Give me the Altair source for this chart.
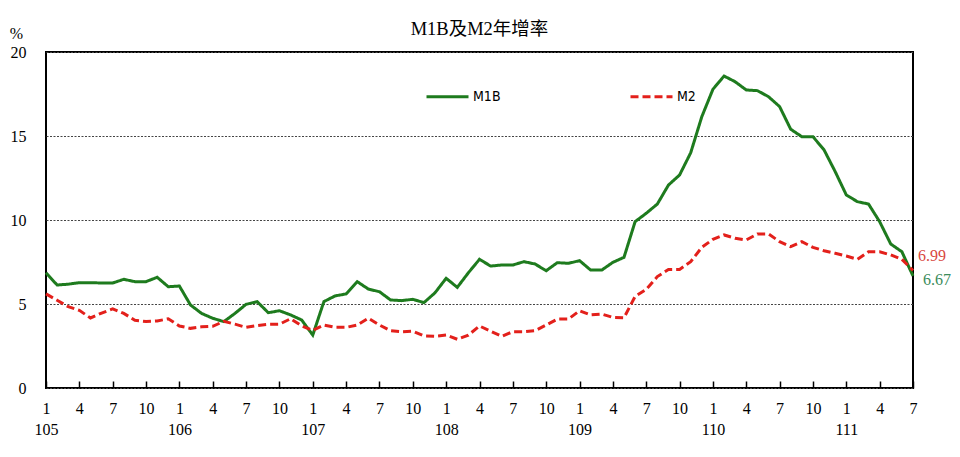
import altair as alt
import pandas as pd

# ---- data (year-over-year growth rates, %) from 105/1 to 111/7 ----
m1b = [6.86, 6.13, 6.18, 6.27, 6.27, 6.25, 6.25, 6.47, 6.33, 6.33, 6.59, 6.03,
       6.07, 4.94, 4.44, 4.15, 3.95, 4.44, 4.98, 5.14, 4.48, 4.60, 4.35, 4.05,
       3.15, 5.14, 5.48, 5.60, 6.33, 5.89, 5.73, 5.24, 5.20, 5.28, 5.08, 5.67,
       6.53, 5.99, 6.86, 7.66, 7.26, 7.32, 7.32, 7.52, 7.38, 6.98, 7.46, 7.42,
       7.58, 7.02, 7.02, 7.48, 7.78, 9.90, 10.40, 10.95, 12.08, 12.68, 14.00, 16.15,
       17.78, 18.57, 18.23, 17.74, 17.70, 17.34, 16.75, 15.40, 14.96, 14.96, 14.17, 12.88,
       11.49, 11.09, 10.95, 9.90, 8.57, 8.11, 6.67]
m2 = [5.60, 5.22, 4.84, 4.62, 4.17, 4.46, 4.71, 4.44, 4.03, 3.96, 3.99, 4.12,
      3.69, 3.55, 3.64, 3.67, 3.97, 3.80, 3.61, 3.72, 3.79, 3.80, 4.12, 3.70,
      3.43, 3.75, 3.61, 3.61, 3.75, 4.15, 3.75, 3.41, 3.35, 3.38, 3.10, 3.08,
      3.15, 2.90, 3.15, 3.69, 3.38, 3.08, 3.35, 3.35, 3.41, 3.75, 4.10, 4.10,
      4.60, 4.35, 4.40, 4.20, 4.18, 5.45, 5.87, 6.63, 7.06, 7.06, 7.52, 8.37,
      8.85, 9.11, 8.91, 8.81, 9.17, 9.17, 8.71, 8.41, 8.71, 8.37, 8.17, 8.02,
      7.86, 7.66, 8.11, 8.11, 7.92, 7.66, 6.99]
series_names = ["M1B", "M2"]
series_colors = ["#1e7b1e", "#e3201b"]
label_colors = ["#3b8c5c", "#d9483f"]
years = ["105", "106", "107", "108", "109", "110", "111"]
tick_months = ["1", "4", "7", "10"]
title_text = "M1B及M2年增率"

n = len(m1b)
idx = list(range(n))
rows = []
for name, vals in zip(series_names, [m1b, m2]):
    for i, v in zip(idx, vals):
        rows.append({"i": i, "series": name, "value": v})
df = pd.DataFrame(rows)
last = df[df["i"] == n - 1].copy()
last["label"] = last["value"].map(lambda v: f"{v:.2f}")

tick_values = list(range(0, n, 3))
tick_labels = []
for t in tick_values:
    m = tick_months[(t % 12) // 3]
    if t % 12 == 0:
        tick_labels.append([m, years[t // 12]])
    else:
        tick_labels.append(m)

def js(v):
    if isinstance(v, list):
        return "[" + ",".join(js(x) for x in v) + "]"
    return "'" + v + "'"

label_expr = "[" + ",".join(js(l) for l in tick_labels) + "][round(datum.value/3)]"

W, H = 867, 336
serif = "Liberation Serif, Times New Roman, Noto Sans CJK TC"
legend_font = "Liberation Sans Narrow, DejaVu Sans Condensed"

x = alt.X("i:Q", scale=alt.Scale(domain=[0, n - 1], nice=False, zero=False),
          axis=alt.Axis(values=tick_values, tickCount=len(tick_values) + 5,
                        labelExpr=label_expr, title=None,
                        grid=False, domain=False, tickSize=7, tickColor="black",
                        tickWidth=1.5, offset=-7, labelPadding=12,
                        labelLineHeight=21, labelFont=serif, labelFontSize=16,
                        labelColor="black", labelFlush=False, labelOverlap=False))
y = alt.Y("value:Q", scale=alt.Scale(domain=[0, 20], nice=False),
          axis=alt.Axis(values=[0, 5, 10, 15, 20], title="%", titleAngle=0,
                        titleX=-30, titleY=-19, titleAlign="center",
                        titleBaseline="middle", titleFont=serif, titleFontSize=16,
                        titleFontWeight="normal", titleColor="black",
                        grid=True, gridColor="#444", gridDash=[2, 1.5], gridWidth=1,
                        domain=False, ticks=False, labelPadding=20,
                        labelFont=serif, labelFontSize=16, labelColor="black"))

legend_kw = dict(title=None, orient="none", legendX=379, legendY=22,
                 direction="horizontal", columnPadding=123,
                 symbolSize=1764, symbolStrokeWidth=3,
                 labelFont=legend_font, labelFontSize=14, labelOffset=3, padding=0)
color = alt.Color("series:N", scale=alt.Scale(domain=series_names, range=series_colors),
                  legend=alt.Legend(**legend_kw))
dash = alt.StrokeDash("series:N", scale=alt.Scale(domain=series_names, range=[[1, 0], [8, 4]]),
                      legend=alt.Legend(**legend_kw))

lines = alt.Chart(df).mark_line(strokeWidth=3).encode(x=x, y=y, color=color, strokeDash=dash)

lab_m1b = alt.Chart(last[last["series"] == "M1B"]).mark_text(
    align="left", baseline="middle", dx=10, dy=4, font=serif, fontSize=16,
    color=label_colors[0]).encode(x="i:Q", y="value:Q", text="label:N")
lab_m2 = alt.Chart(last[last["series"] == "M2"]).mark_text(
    align="left", baseline="middle", dx=5, dy=-15, font=serif, fontSize=16,
    color=label_colors[1]).encode(x="i:Q", y="value:Q", text="label:N")

chart = alt.layer(lines, lab_m1b, lab_m2).properties(
    width=W, height=H,
    background="white",
    title=alt.TitleParams(title_text, font=serif, fontSize=18.5, fontWeight="normal",
                          color="black", anchor="middle", offset=17, dy=30, frame="group"),
    autosize=alt.AutoSizeParams(type="none"),
    padding={"left": 46, "top": 52, "right": 47, "bottom": 69},
).configure_view(stroke="black", strokeWidth=2)

chart.save("out.html", embed_options={"renderer": "svg", "actions": False})
